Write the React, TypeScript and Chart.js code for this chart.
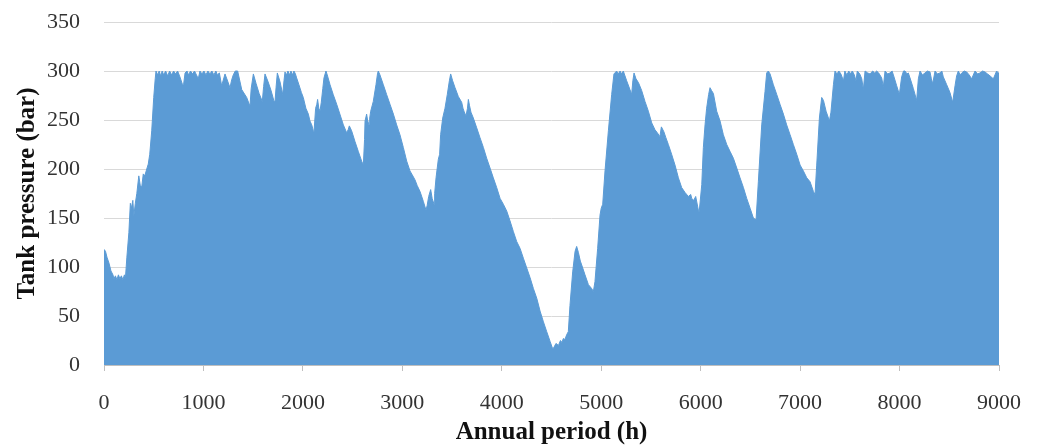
import React, { useEffect, useRef } from "react";
import { Chart, registerables } from "chart.js";

Chart.register(...registerables);

// Annual period (h)
const hours = [
  0, 15, 30, 50, 70, 90, 100, 115, 130, 145, 160, 175, 190, 205, 215,
  230, 250, 265, 275, 290, 300, 315, 330, 350, 365, 380, 395, 410, 430, 445,
  460, 480, 500, 515, 523, 540, 555, 570, 585, 600, 620, 640, 660, 680, 700,
  720, 740, 760, 790, 800, 815, 835, 850, 870, 890, 910, 930, 948, 965, 985,
  1005, 1025, 1045, 1065, 1085, 1105, 1125, 1140, 1160, 1183, 1217, 1235, 1267, 1284, 1300,
  1320, 1344, 1385, 1435, 1468, 1480, 1502, 1530, 1560, 1592, 1605, 1619, 1650, 1680, 1710,
  1720, 1730, 1743, 1770, 1797, 1810, 1820, 1835, 1850, 1865, 1880, 1895, 1910, 1925, 1937,
  1960, 1985, 2004, 2030, 2055, 2071, 2089, 2105, 2112, 2128, 2140, 2148, 2160, 2172, 2185,
  2200, 2212, 2232, 2245, 2273, 2305, 2340, 2372, 2407, 2440, 2455, 2467, 2490, 2524, 2557,
  2591, 2608, 2620, 2625, 2641, 2650, 2665, 2672, 2682, 2708, 2735, 2750, 2758, 2775, 2809,
  2842, 2876, 2910, 2943, 2976, 3010, 3044, 3077, 3100, 3127, 3150, 3178, 3211, 3238, 3250,
  3265, 3285, 3300, 3319, 3325, 3339, 3362, 3375, 3385, 3406, 3429, 3452, 3473, 3486, 3506,
  3530, 3563, 3597, 3610, 3620, 3640, 3655, 3664, 3675, 3690, 3714, 3748, 3781, 3815, 3848,
  3882, 3915, 3949, 3983, 4016, 4050, 4083, 4117, 4150, 4184, 4217, 4251, 4285, 4318, 4352,
  4385, 4419, 4452, 4486, 4510, 4519, 4545, 4570, 4590, 4605, 4619, 4635, 4653, 4669, 4686,
  4713, 4737, 4753, 4770, 4790, 4804, 4837, 4871, 4904, 4921, 4937, 4964, 4988, 5000, 5015,
  5038, 5072, 5105, 5128, 5155, 5170, 5190, 5205, 5222, 5256, 5289, 5306, 5318, 5330, 5350,
  5375, 5407, 5440, 5474, 5508, 5541, 5564, 5590, 5605, 5630, 5650, 5675, 5708, 5742, 5776,
  5809, 5843, 5876, 5900, 5910, 5930, 5950, 5977, 5985, 6011, 6027, 6044, 6060, 6080, 6094,
  6110, 6128, 6161, 6195, 6228, 6262, 6295, 6329, 6363, 6396, 6430, 6463, 6497, 6530, 6557,
  6580, 6614, 6647, 6664, 6680, 6698, 6731, 6765, 6798, 6832, 6865, 6899, 6932, 6966, 7000,
  7033, 7067, 7100, 7134, 7150, 7167, 7194, 7217, 7235, 7261, 7295, 7310, 7335, 7351, 7370,
  7390, 7410, 7436, 7450, 7470, 7490, 7502, 7525, 7545, 7562, 7575, 7600, 7620, 7636, 7653,
  7680, 7703, 7730, 7750, 7770, 7790, 7820, 7837, 7854, 7880, 7904, 7925, 7938, 7971, 7998,
  8021, 8040, 8055, 8075, 8088, 8105, 8139, 8172, 8189, 8206, 8230, 8256, 8280, 8306, 8320,
  8333, 8357, 8380, 8407, 8425, 8440, 8474, 8507, 8534, 8558, 8574, 8591, 8610, 8625, 8650,
  8675, 8700, 8725, 8759, 8785, 8809, 8835, 8859, 8885, 8910, 8943, 8976, 8993, 9000,
];

// Tank pressure (bar)
const pressure = [
  118, 116, 110, 104, 96, 92, 88, 91, 87, 92, 88, 91, 87, 92, 88,
  110, 135, 165, 160, 168, 152, 165, 175, 193, 183, 182, 195, 193, 200, 205,
  215, 239, 273, 292, 300, 296, 300, 295, 300, 296, 300, 295, 300, 296, 300,
  297, 300, 295, 286, 286, 298, 300, 296, 300, 297, 300, 296, 292, 300, 297,
  300, 296, 300, 297, 300, 296, 300, 296, 298, 285, 297, 292, 283, 291, 296,
  300, 300, 281, 273, 264, 282, 297, 287, 277, 269, 284, 297, 289, 280, 269,
  269, 283, 298, 289, 276, 290, 299, 296, 300, 296, 300, 296, 300, 297, 293,
  286, 278, 273, 262, 256, 249, 245, 239, 238, 262, 266, 271, 262, 259, 268,
  282, 293, 300, 296, 286, 276, 266, 256, 245, 237, 240, 244, 239, 228, 218,
  208, 204, 230, 249, 256, 250, 245, 252, 259, 269, 286, 297, 300, 296, 286,
  276, 266, 256, 245, 235, 222, 208, 198, 194, 189, 183, 177, 167, 158, 163,
  172, 179, 170, 164, 175, 191, 210, 215, 235, 252, 262, 276, 290, 297, 290,
  283, 274, 268, 262, 259, 254, 262, 271, 265, 258, 252, 242, 232, 222, 211,
  201, 191, 181, 170, 164, 157, 147, 136, 126, 119, 109, 99, 89, 78, 68,
  55, 44, 34, 24, 17, 17, 22, 20, 25, 23, 27, 26, 31, 34, 61,
  95, 116, 121, 115, 106, 102, 92, 82, 78, 75, 85, 119, 153, 160, 164,
  198, 239, 276, 297, 300, 297, 300, 297, 300, 290, 281, 276, 290, 298, 292,
  288, 280, 269, 259, 247, 240, 237, 233, 243, 238, 232, 225, 215, 204, 191,
  181, 176, 172, 174, 170, 168, 172, 158, 156, 184, 222, 245, 262, 276, 283,
  280, 277, 259, 249, 235, 225, 218, 211, 201, 191, 181, 170, 160, 150, 148,
  187, 245, 279, 298, 300, 297, 286, 276, 266, 256, 245, 235, 225, 215, 204,
  198, 191, 187, 177, 174, 204, 252, 273, 270, 259, 249, 258, 286, 300, 297,
  300, 297, 290, 300, 296, 300, 297, 300, 296, 290, 300, 297, 292, 281, 300,
  298, 297, 300, 298, 300, 298, 293, 284, 300, 297, 298, 300, 296, 285, 276,
  294, 300, 300, 297, 298, 293, 282, 270, 292, 300, 296, 298, 300, 299, 292,
  287, 300, 297, 298, 300, 294, 286, 278, 268, 285, 295, 300, 296, 298, 300,
  299, 296, 292, 300, 297, 298, 300, 299, 297, 295, 292, 300, 298, 298,
];

const xTicks = [0, 1000, 2000, 3000, 4000, 5000, 6000, 7000, 8000, 9000];
const yTicks = [0, 50, 100, 150, 200, 250, 300, 350];

const xTitle = "Annual period (h)";
const yTitle = "Tank pressure (bar)";

const FONT = "'Liberation Serif', 'Times New Roman', serif";

export default function App() {
  const ref = useRef<HTMLCanvasElement>(null);

  useEffect(() => {
    if (!ref.current) return;
    const points = hours.map((h, i) => ({ x: h, y: pressure[i] }));
    const chart = new Chart(ref.current, {
      type: "line",
      data: {
        datasets: [
          {
            data: points,
            borderColor: "#5B9BD5",
            backgroundColor: "#5B9BD5",
            borderWidth: 1,
            fill: "origin",
            pointRadius: 0,
            tension: 0,
          },
        ],
      },
      options: {
        animation: false,
        responsive: false,
        maintainAspectRatio: false,
        layout: { padding: { top: 22, right: 38, left: 0, bottom: 0 } },
        plugins: { legend: { display: false }, tooltip: { enabled: false } },
        scales: {
          x: {
            type: "linear",
            min: 0,
            max: 9000,
            afterBuildTicks: (s: any) => {
              s.ticks = xTicks.map((v) => ({ value: v }));
            },
            afterFit: (s: any) => {
              s.height = 80;
              s.paddingLeft = 0;
              s.paddingRight = 0;
            },
            ticks: {
              padding: 19,
              color: "#333333",
              font: { family: FONT, size: 22 },
              callback: (v: any) => String(v),
            },
            grid: {
              display: true,
              drawOnChartArea: false,
              drawTicks: true,
              tickLength: 6,
              color: "#BFBFBF",
            },
            border: { display: true, color: "#BFBFBF", width: 1 },
            title: {
              display: true,
              text: xTitle,
              color: "#111111",
              font: { family: FONT, size: 25, weight: "bold", lineHeight: 1 },
              padding: { top: 0, bottom: 0 },
            },
          },
          y: {
            min: 0,
            max: 350,
            afterBuildTicks: (s: any) => {
              s.ticks = yTicks.map((v) => ({ value: v }));
            },
            afterFit: (s: any) => {
              s.width = 104;
              s.paddingTop = 0;
              s.paddingBottom = 0;
            },
            ticks: {
              padding: 24,
              color: "#333333",
              font: { family: FONT, size: 22 },
              callback: (v: any) => String(v),
            },
            grid: {
              display: true,
              drawTicks: false,
              color: "#D9D9D9",
              lineWidth: 1,
            },
            border: { display: false },
            title: {
              display: true,
              text: yTitle,
              color: "#111111",
              font: { family: FONT, size: 25, weight: "bold", lineHeight: 1 },
              padding: { top: 15, bottom: 0 },
            },
          },
        },
      },
    });
    return () => chart.destroy();
  }, []);

  return (
    <div
      style={{
        position: "absolute",
        left: 0,
        top: 0,
        width: 1037,
        height: 445,
        background: "#ffffff",
      }}
    >
      <canvas ref={ref} width={1037} height={445} style={{ display: "block" }} />
    </div>
  );
}
